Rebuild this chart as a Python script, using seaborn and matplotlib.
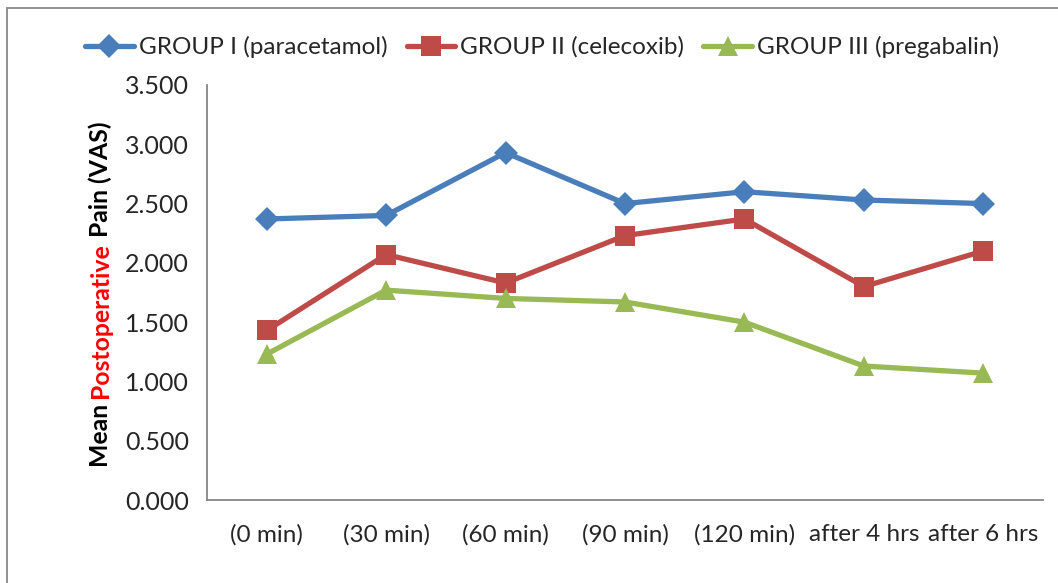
import matplotlib
matplotlib.use("Agg")
import matplotlib.pyplot as plt
from matplotlib.patches import Rectangle
from matplotlib.lines import Line2D
import seaborn as sns
import pandas as pd
import numpy as np

# values
times = ['(0 min)', '(30 min)', '(60 min)', '(90 min)', '(120 min)',
         'after 4 hrs', 'after 6 hrs']
group1 = [2.37, 2.40, 2.93, 2.50, 2.60, 2.53, 2.50]
group2 = [1.43, 2.07, 1.83, 2.23, 2.37, 1.80, 2.10]
group3 = [1.23, 1.77, 1.70, 1.67, 1.50, 1.13, 1.07]
groups = ['GROUP I (paracetamol)', 'GROUP II (celecoxib)', 'GROUP III (pregabalin)']

colors = ['#4A7EBB', '#BE4B48', '#98B954']
marks = ['D', 's', '^']
msizes = [12, 14, 14]

df = pd.DataFrame({
    'time': times * 3,
    'pos': list(range(len(times))) * 3,
    'pain': group1 + group2 + group3,
    'group': np.repeat(groups, len(times)),
})

sns.set_style("white")
plt.rcParams['font.family'] = ['Lato', 'DejaVu Sans']

fig = plt.figure(figsize=(10.58, 5.83), dpi=100)
ax = fig.add_axes([207 / 1058, 83 / 583, 836 / 1058, 415 / 583])

# outer frame of the chart
fig.patches.append(Rectangle((6.5 / 1058, -0.1), 1.2, (583 - 8) / 583 + 0.1,
                             transform=fig.transFigure, fill=False,
                             edgecolor='#888888', linewidth=1.3))

for g, c, m, s in zip(groups, colors, marks, msizes):
    sub = df[df['group'] == g]
    sns.lineplot(data=sub, x='pos', y='pain', ax=ax, color=c, marker=m,
                 markersize=s, linewidth=3.8, markeredgecolor=c,
                 markeredgewidth=0, legend=False)

ax.set_xlim(-0.5, len(times) - 0.5)
ax.set_ylim(0, 3.5)
ax.set_yticks(np.arange(0, 3.51, 0.5))
ax.set_yticklabels(['%.3f' % v for v in np.arange(0, 3.51, 0.5)])

# category labels in the middle, tick marks on the boundaries
ax.set_xticks(np.arange(-0.5, len(times)), labels=[''] * (len(times) + 1))
ax.set_xticks(range(len(times)), labels=times, minor=True)
ax.tick_params(axis='x', which='major', length=7, width=1.3, color='#868686',
               direction='out')
ax.tick_params(axis='x', which='minor', length=0, pad=17, labelsize=17.5)
ax.tick_params(axis='y', length=7, width=1.3, color='#868686', direction='out',
               labelsize=18, pad=6)
ax.set_xlabel('')
ax.set_ylabel('')

for sp in ['top', 'right']:
    ax.spines[sp].set_visible(False)
for sp in ['left', 'bottom']:
    ax.spines[sp].set_color('#868686')
    ax.spines[sp].set_linewidth(1.3)

handles = [Line2D([], [], color=c, marker=m, markersize=s, linewidth=3.8,
                  markeredgewidth=0) for c, m, s in zip(colors, marks, msizes)]
fig.legend(handles, groups, loc='center', bbox_to_anchor=(542 / 1058, 1 - 47 / 583),
           ncol=3, frameon=False, fontsize=17.5, handlelength=2.0,
           handletextpad=0.2, columnspacing=0.8, borderaxespad=0)

# y label with one coloured word
parts = [('Mean ', 'black'), ('Postoperative', 'red'), (' Pain (VAS)', 'black')]
fig.canvas.draw()
r = fig.canvas.get_renderer()
txts = []
for s, c in parts:
    t = fig.text(0, 0, s, rotation=90, color=c, fontsize=17.8, fontweight='bold',
                 ha='center', va='bottom', rotation_mode='anchor')
    txts.append(t)
heights = [t.get_window_extent(r).height for t in txts]
total = sum(heights)
xc = 100
yc = 583 - 294
y0 = yc - total / 2
for t, h in zip(txts, heights):
    t.set_position((xc / 1058, y0 / 583))
    t.set_ha('left')
    t.set_va('center')
    y0 += h

fig.savefig('out.png', dpi=100)
